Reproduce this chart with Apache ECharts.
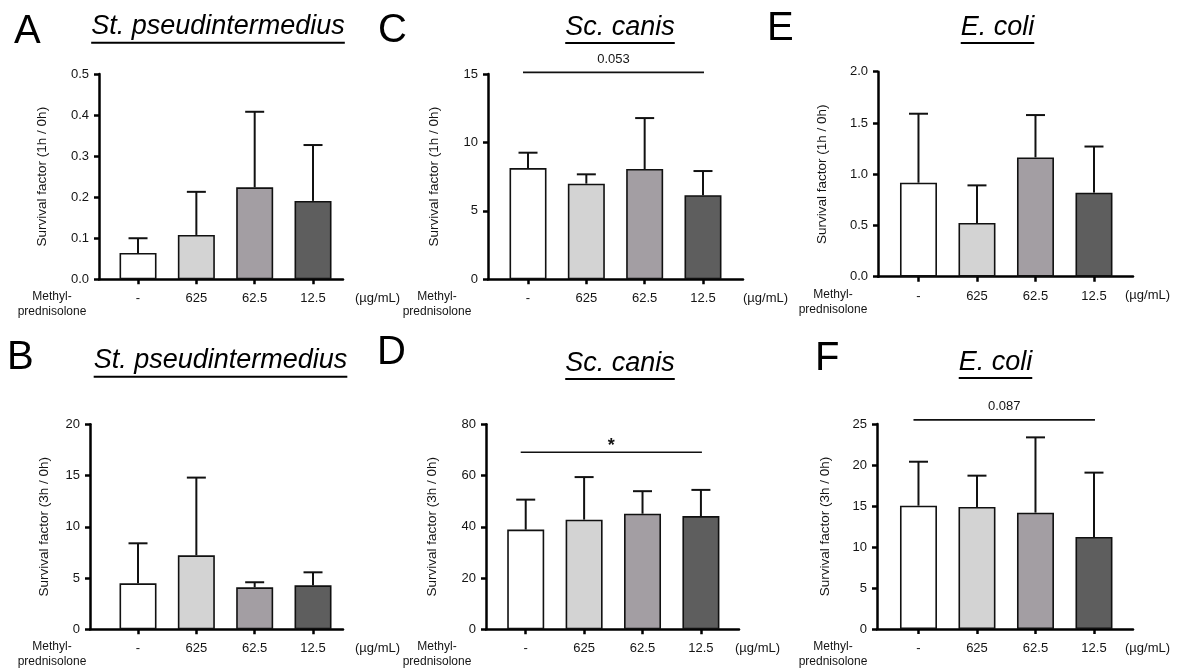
<!DOCTYPE html>
<html><head><meta charset="utf-8">
<script src="https://cdn.jsdelivr.net/npm/echarts@6/dist/echarts.min.js"></script>
<style>html,body{margin:0;padding:0;background:#fff}#c{width:1178px;height:668px}</style>
</head><body><div id="c"></div>
<script>
// ---------------- data ----------------
const categories = ['-', '625', '62.5', '12.5'];
const unitLabel = '(\u00b5g/mL)';
const xTitleLines = ['Methyl-', 'prednisolone'];
const panelIds = ['A', 'B', 'C', 'D', 'E', 'F'];
const speciesNames = ['St. pseudintermedius', 'St. pseudintermedius', 'Sc. canis', 'Sc. canis', 'E. coli', 'E. coli'];
const yTitles = ['Survival factor (1h / 0h)', 'Survival factor (3h / 0h)', 'Survival factor (1h / 0h)',
                 'Survival factor (3h / 0h)', 'Survival factor (1h / 0h)', 'Survival factor (3h / 0h)'];

const meanA = [0.064, 0.108, 0.224, 0.191];
const sdA   = [0.036, 0.105, 0.184, 0.136];
const meanB = [4.49, 7.22, 4.10, 4.29];
const sdB   = [3.90, 7.58, 0.49, 1.27];
const meanC = [8.13, 6.99, 8.06, 6.14];
const sdC   = [1.12, 0.68, 3.72, 1.77];
const meanD = [38.9, 42.8, 45.1, 44.2];
const sdD   = [11.7, 16.6, 8.8, 10.2];
const meanE = [0.917, 0.524, 1.164, 0.820];
const sdE   = [0.673, 0.367, 0.413, 0.450];
const meanF = [15.04, 14.88, 14.19, 11.22];
const sdF   = [5.36, 3.82, 9.18, 7.85];

const yMaxes     = [0.5, 20, 15, 80, 2.0, 25];
const yIntervals = [0.1, 5, 5, 20, 0.5, 5];
const yDecimals  = [1, 0, 0, 0, 1, 0];

// significance brackets: panel index, from group, to group, level, label
const sigPanel  = [2, 3, 5];
const sigFrom   = [0, 0, 0];
const sigTo     = [3, 3, 3];
const sigLevel  = [15.12, 69.1, 25.5];
const sigLabel  = ['0.053', '*', '0.087'];

const means = [meanA, meanB, meanC, meanD, meanE, meanF];
const sds = [sdA, sdB, sdC, sdD, sdE, sdF];

// ---------------- layout / style ----------------
const FONT = '"Liberation Sans", Arial, Helvetica, sans-serif';
const TXT = '#141414';
const barColors = ['#ffffff', '#d3d3d3', '#a39ea3', '#5e5e5e'];
const layout = [
  {grid: [99, 74, 244, 205.3],  x: [-0.669, 3.514], letter: [14, 46],  title: [218, 36, 42.7],   methyl: 52,  unit: 355,  gap: 50},
  {grid: [90, 424.3, 253, 205], x: [-0.823, 3.514], letter: [7, 371.7], title: [220.5, 370, 376.7], methyl: 52, unit: 355, gap: 39},
  {grid: [488, 74, 255, 205.3], x: [-0.686, 3.686], letter: [378, 45], title: [620, 36.5, 43],    methyl: 437, unit: 743, gap: 47},
  {grid: [486, 424.3, 253, 205], x: [-0.680, 3.652], letter: [377, 366.7], title: [620, 372.5, 379], methyl: 437, unit: 735, gap: 47},
  {grid: [878, 71.7, 255, 205], x: [-0.692, 3.667], letter: [767, 43.3], title: [997.5, 36.5, 43], methyl: 833, unit: 1125, gap: 49},
  {grid: [877, 424, 256, 205],  x: [-0.709, 3.667], letter: [815, 373], title: [995.5, 371.5, 378], methyl: 833, unit: 1125, gap: 45}
];

const measureCtx = document.createElement('canvas').getContext('2d');
function textWidth(t, font) { measureCtx.font = font; return measureCtx.measureText(t).width; }
const mid = (baseline, fs) => baseline - 0.3465 * fs;

const grids = [], xAxes = [], yAxes = [], series = [], graphics = [];

panelIds.forEach((id, p) => {
  const lo = layout[p];
  grids.push({left: lo.grid[0], top: lo.grid[1], width: lo.grid[2], height: lo.grid[3], containLabel: false});
  xAxes.push({
    type: 'value', gridIndex: p, min: lo.x[0], max: lo.x[1],
    axisLine: {show: true, onZero: false, lineStyle: {color: '#000', width: 2.5}},
    axisTick: {show: true, customValues: [0, 1, 2, 3], length: 5, lineStyle: {color: '#000', width: 2.5}},
    axisLabel: {show: true, customValues: [0, 1, 2, 3], formatter: v => categories[Math.round(v)],
                margin: 13, fontSize: 13, color: TXT, fontFamily: FONT},
    splitLine: {show: false}
  });
  yAxes.push({
    type: 'value', gridIndex: p, min: 0, max: yMaxes[p], interval: yIntervals[p],
    name: yTitles[p], nameLocation: 'middle', nameGap: lo.gap,
    nameTextStyle: {fontSize: 13.5, color: TXT, fontFamily: FONT},
    axisLine: {show: true, onZero: false, lineStyle: {color: '#000', width: 2.5}},
    axisTick: {show: true, length: 5, lineStyle: {color: '#000', width: 2.5}},
    axisLabel: {formatter: v => v.toFixed(yDecimals[p]), margin: 10, fontSize: 13, color: TXT, fontFamily: FONT},
    splitLine: {show: false}
  });
  series.push({
    type: 'bar', xAxisIndex: p, yAxisIndex: p, barWidth: 37, z: 2,
    data: means[p].map((v, i) => ({value: [i, v], itemStyle: {color: barColors[i]}})),
    itemStyle: {borderColor: '#111', borderWidth: 1.6}
  });
  series.push({
    type: 'custom', xAxisIndex: p, yAxisIndex: p, z: 3,
    data: means[p].map((v, i) => [i, v, v + sds[p][i]]),
    renderItem: (params, api) => {
      const b = api.coord([api.value(0), api.value(1)]);
      const t = api.coord([api.value(0), api.value(2)]);
      const st = {stroke: '#111', lineWidth: 2};
      return {type: 'group', children: [
        {type: 'line', shape: {x1: b[0], y1: b[1], x2: t[0], y2: t[1]}, style: st},
        {type: 'line', shape: {x1: t[0] - 9.5, y1: t[1], x2: t[0] + 9.5, y2: t[1]}, style: st}
      ]};
    }
  });

  // panel letter
  graphics.push({type: 'text', x: lo.letter[0], y: mid(lo.letter[1], 40),
    style: {text: id, font: '40px ' + FONT, fill: '#000', align: 'left', verticalAlign: 'middle'}});
  // species title with underline
  const tFont = 'italic 27px ' + FONT;
  const w = textWidth(speciesNames[p], '27px ' + FONT);
  graphics.push({type: 'text', x: lo.title[0], y: mid(lo.title[1], 27),
    style: {text: speciesNames[p], font: tFont, fill: '#000', align: 'center', verticalAlign: 'middle'}});
  graphics.push({type: 'line', shape: {x1: lo.title[0] - w / 2, y1: lo.title[2], x2: lo.title[0] + w / 2, y2: lo.title[2]},
    style: {stroke: '#000', lineWidth: 2}});
  // x title
  const axisY = lo.grid[1] + lo.grid[3];
  graphics.push({type: 'text', x: lo.methyl, y: mid(axisY + 22, 12),
    style: {text: xTitleLines[0], font: '12px ' + FONT, fill: TXT, align: 'center', verticalAlign: 'middle'}});
  graphics.push({type: 'text', x: lo.methyl, y: mid(axisY + 37, 12),
    style: {text: xTitleLines[1], font: '12px ' + FONT, fill: TXT, align: 'center', verticalAlign: 'middle'}});
  graphics.push({type: 'text', x: lo.unit, y: mid(axisY + 23.5, 13),
    style: {text: unitLabel, font: '13px ' + FONT, fill: TXT, align: 'left', verticalAlign: 'middle'}});
});

sigPanel.forEach((p, k) => {
  series.push({
    type: 'custom', xAxisIndex: p, yAxisIndex: p, z: 4, clip: false,
    data: [[sigFrom[k], sigTo[k], sigLevel[k]]],
    renderItem: (params, api) => {
      const a = api.coord([api.value(0), api.value(2)]);
      const b = api.coord([api.value(1), api.value(2)]);
      const x1 = a[0] - 5, x2 = b[0] + 1;
      const isStar = sigLabel[k] === '*';
      const fs = isStar ? 18 : 13;
      const baseline = isStar ? a[1] + 0.5 : a[1] - 8.5;
      return {type: 'group', children: [
        {type: 'line', shape: {x1: x1, y1: a[1], x2: x2, y2: b[1]}, style: {stroke: '#111', lineWidth: 1.6}},
        {type: 'text', x: (x1 + x2) / 2, y: baseline - 0.3465 * fs,
         style: {text: sigLabel[k], font: (isStar ? 'bold ' : '') + fs + 'px ' + FONT, fill: TXT, align: 'center', verticalAlign: 'middle'}}
      ]};
    }
  });
});

const chart = echarts.init(document.getElementById('c'), null, {renderer: 'canvas'});
chart.setOption({
  animation: false,
  backgroundColor: '#fff',
  grid: grids, xAxis: xAxes, yAxis: yAxes, series: series,
  graphic: {elements: graphics}
});
</script></body></html>
